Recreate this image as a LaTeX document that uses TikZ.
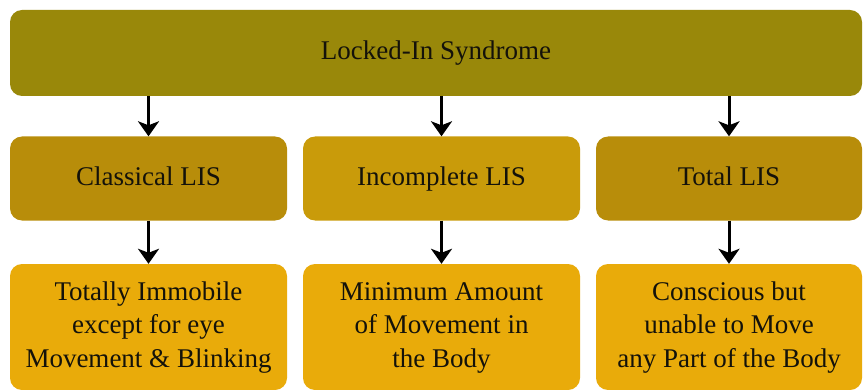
\documentclass[tikz,border=0pt]{standalone}
\usepackage{fontspec}
\setmainfont{LiberationSerif}[Extension=.ttf,UprightFont=*-Regular,BoldFont=*-Bold]
\usetikzlibrary{arrows.meta}
\definecolor{topc}{RGB}{153,136,10}
\definecolor{midc}{RGB}{184,141,10}
\definecolor{midlc}{RGB}{201,155,10}
\definecolor{botc}{RGB}{233,171,10}
\definecolor{txtc}{RGB}{20,18,10}
\begin{document}
\begin{tikzpicture}[x=1pt,y=-1pt,
  box/.style={rectangle,rounded corners=12pt,inner sep=0pt,text=txtc,
    font=\fontsize{27}{33.5}\selectfont,align=center},
  conn/.style={line width=3pt,-{Stealth[length=15pt,width=21pt,inset=4pt]}}]
\useasboundingbox (0,0) rectangle (866,390);
\node[box,fill=topc,minimum width=852pt,minimum height=86pt] (top) at (436,53) {\strut Locked-In Syndrome};
\node[box,fill=midc,minimum width=277pt,minimum height=84pt] (m1) at (148.5,178.5) {\strut Classical LIS};
\node[box,fill=midlc,minimum width=277pt,minimum height=84pt] (m2) at (441.5,178.5) {\strut Incomplete LIS};
\node[box,fill=midc,minimum width=266pt,minimum height=84pt] (m3) at (729,178.5) {\strut Total LIS};
\node[box,fill=botc,minimum width=277pt,minimum height=126pt] (b1) at (148.5,327) {\strut Totally Immobile\\\strut except for eye\\\strut Movement \& Blinking};
\node[box,fill=botc,minimum width=277pt,minimum height=126pt] (b2) at (441.5,327) {\strut Minimum Amount\\\strut of Movement in\\\strut the Body};
\node[box,fill=botc,minimum width=266pt,minimum height=126pt] (b3) at (729,327) {\strut Conscious but\\\strut unable to Move\\\strut any Part of the Body};
\foreach \m in {m1,m2,m3}{
  \draw[conn] (top.south -| \m.north) -- (\m.north);
}
\draw[conn] (m1.south) -- (b1.north);
\draw[conn] (m2.south) -- (b2.north);
\draw[conn] (m3.south) -- (b3.north);
\end{tikzpicture}
\end{document}
